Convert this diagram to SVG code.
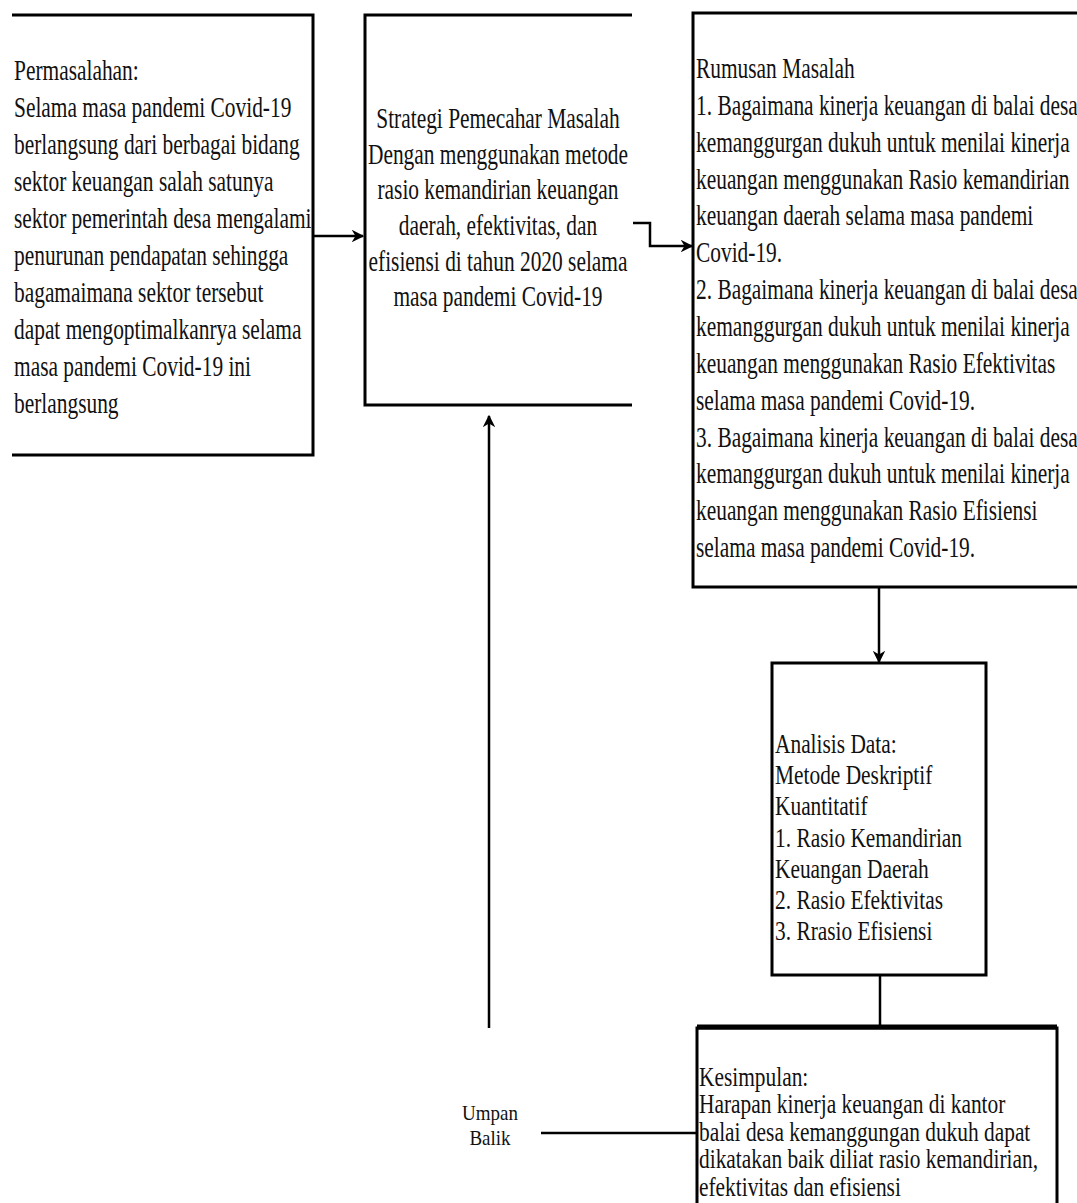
<svg xmlns="http://www.w3.org/2000/svg" width="1077" height="1203" viewBox="0 0 1077 1203">
<style>
.t{font-family:"Liberation Serif","Times New Roman",serif;font-size:21.4px;fill:#111}
.b{fill:none;stroke:#000;stroke-width:3}
.c{fill:none;stroke:#000;stroke-width:2.5}
</style>
<defs>
<marker id="ah" viewBox="0 0 10 10" refX="9" refY="5" markerWidth="5" markerHeight="5" orient="auto" markerUnits="strokeWidth">
<path d="M0,0 L10,5 L0,10 L3,5 Z" fill="#000"/>
</marker>
</defs>
<rect width="1077" height="1203" fill="#fff"/>
<g id="permasalahan">
<path class="b" d="M12,15 H313 V455 H12"/>
<text class="t" transform="translate(14,80) scale(1,1.35)"><tspan x="0">Permasalahan:</tspan><tspan x="0" dy="27.4">Selama masa pandemi Covid-19</tspan><tspan x="0" dy="27.4">berlangsung dari berbagai bidang</tspan><tspan x="0" dy="27.4">sektor keuangan salah satunya</tspan><tspan x="0" dy="27.4">sektor pemerintah desa mengalami</tspan><tspan x="0" dy="27.4">penurunan pendapatan sehingga</tspan><tspan x="0" dy="27.4">bagamaimana sektor tersebut</tspan><tspan x="0" dy="27.4">dapat mengoptimalkanrya selama</tspan><tspan x="0" dy="27.4">masa pandemi Covid-19 ini</tspan><tspan x="0" dy="27.4">berlangsung</tspan></text>
</g>
<g id="strategi">
<path class="b" d="M632,15 H365 V405 H632"/>
<text class="t" text-anchor="middle" transform="translate(498,128) scale(1,1.35)"><tspan x="0">Strategi Pemecahar Masalah</tspan><tspan x="0" dy="26.4">Dengan menggunakan metode</tspan><tspan x="0" dy="26.4">rasio kemandirian keuangan</tspan><tspan x="0" dy="26.4">daerah, efektivitas, dan</tspan><tspan x="0" dy="26.4">efisiensi di tahun 2020 selama</tspan><tspan x="0" dy="26.4">masa pandemi Covid-19</tspan></text>
</g>
<g id="rumusan">
<path class="b" d="M1080,13 H693 V587 H1080"/>
<text class="t" transform="translate(696,78) scale(1,1.35)"><tspan x="0">Rumusan Masalah</tspan><tspan x="0" dy="27.3">1. Bagaimana kinerja keuangan di balai desa</tspan><tspan x="0" dy="27.3">kemanggurgan dukuh untuk menilai kinerja</tspan><tspan x="0" dy="27.3">keuangan menggunakan Rasio kemandirian</tspan><tspan x="0" dy="27.3">keuangan daerah selama masa pandemi</tspan><tspan x="0" dy="27.3">Covid-19.</tspan><tspan x="0" dy="27.3">2. Bagaimana kinerja keuangan di balai desa</tspan><tspan x="0" dy="27.3">kemanggurgan dukuh untuk menilai kinerja</tspan><tspan x="0" dy="27.3">keuangan menggunakan Rasio Efektivitas</tspan><tspan x="0" dy="27.3">selama masa pandemi Covid-19.</tspan><tspan x="0" dy="27.3">3. Bagaimana kinerja keuangan di balai desa</tspan><tspan x="0" dy="27.3">kemanggurgan dukuh untuk menilai kinerja</tspan><tspan x="0" dy="27.3">keuangan menggunakan Rasio Efisiensi</tspan><tspan x="0" dy="27.3">selama masa pandemi Covid-19.</tspan></text>
</g>
<g id="analisis">
<rect class="b" x="772" y="663" width="214" height="312"/>
<text class="t" transform="translate(775,753) scale(1,1.3)"><tspan x="0">Analisis Data:</tspan><tspan x="0" dy="24">Metode Deskriptif</tspan><tspan x="0" dy="24">Kuantitatif</tspan><tspan x="0" dy="24">1. Rasio Kemandirian</tspan><tspan x="0" dy="24">Keuangan Daerah</tspan><tspan x="0" dy="24">2. Rasio Efektivitas</tspan><tspan x="0" dy="24">3. Rrasio Efisiensi</tspan></text>
</g>
<g id="kesimpulan">
<path class="b" d="M697,1210 V1028 H1057 V1210"/>
<path d="M697,1027 H1057" stroke="#000" stroke-width="5"/>
<text class="t" transform="translate(699,1086) scale(1,1.3)"><tspan x="0">Kesimpulan:</tspan><tspan x="0" dy="21.15">Harapan kinerja keuangan di kantor</tspan><tspan x="0" dy="21.15">balai desa kemanggungan dukuh dapat</tspan><tspan x="0" dy="21.15">dikatakan baik diliat rasio kemandirian,</tspan><tspan x="0" dy="21.15">efektivitas dan efisiensi</tspan></text>
</g>
<g id="umpan-balik">
<text class="t" text-anchor="middle" style="font-size:19px" transform="translate(490,1120) scale(1,1.15)"><tspan x="0">Umpan</tspan><tspan x="0" dy="22">Balik</tspan></text>
</g>
<g id="connectors">
<path class="c" d="M313,236 H363" marker-end="url(#ah)"/>
<path class="c" d="M633,223 H650 V246 H692" marker-end="url(#ah)"/>
<path class="c" d="M879,587 V662" marker-end="url(#ah)"/>
<path class="c" d="M880,975 V1026"/>
<path class="c" d="M541,1133 H697"/>
<path class="c" d="M489,1028 V416" marker-end="url(#ah)"/>
</g>
</svg>
